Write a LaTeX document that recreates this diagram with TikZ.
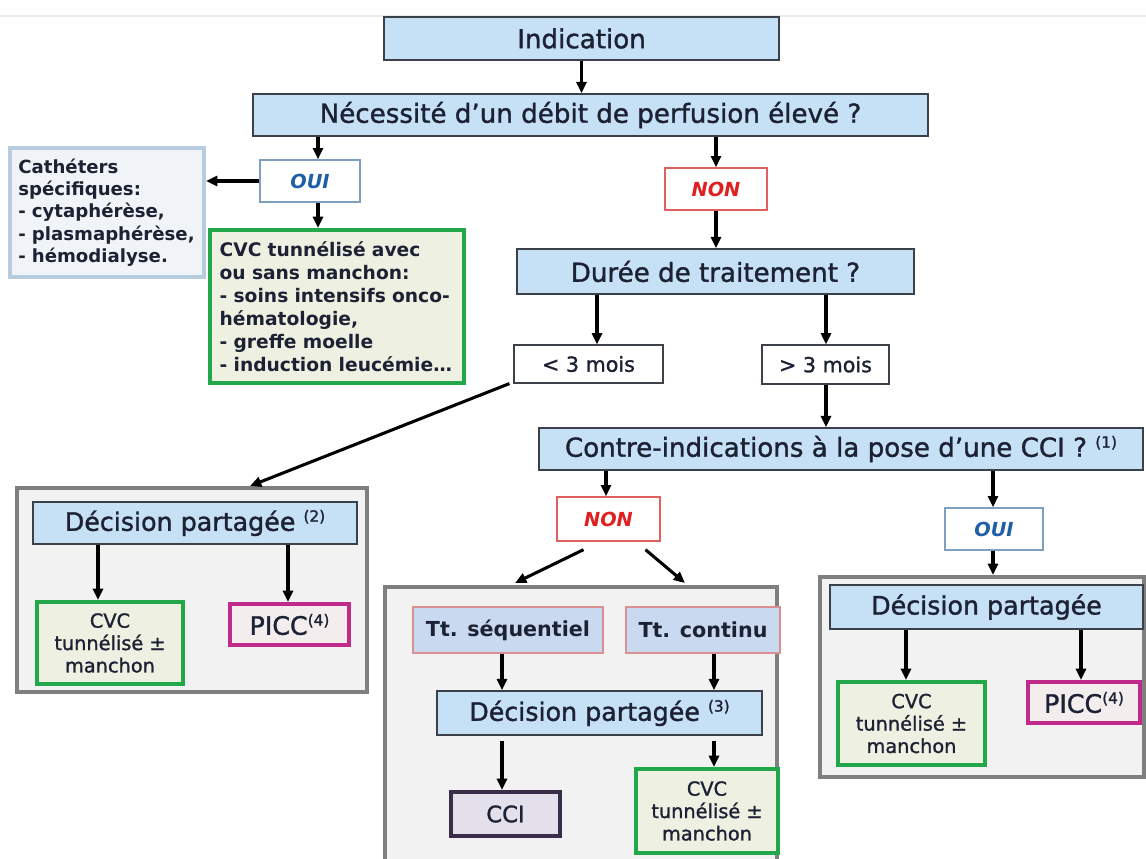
\documentclass[tikz,border=0pt]{standalone}
\usepackage{fontspec}
\setmainfont{DejaVu Sans}
\newfontfamily\medfont[FakeBold=1.3]{DejaVu Sans}
\usetikzlibrary{arrows.meta,calc}
\definecolor{txt}{HTML}{1C2233}
\definecolor{hdrfill}{HTML}{C6E0F6}
\definecolor{hdrdraw}{HTML}{3C4048}
\definecolor{contfill}{HTML}{F2F2F2}
\definecolor{contdraw}{HTML}{7F7F7F}
\definecolor{grn}{HTML}{22A84A}
\definecolor{grnfill}{HTML}{EEF0E2}
\definecolor{mag}{HTML}{C02A8A}
\definecolor{magfill}{HTML}{F3EDED}
\definecolor{ccidraw}{HTML}{3A2D4A}
\definecolor{ccifill}{HTML}{E3DFEB}
\definecolor{ttfill}{HTML}{C9D9EF}
\definecolor{ttdraw}{HTML}{D99090}
\definecolor{ouiblue}{HTML}{1F5FA8}
\definecolor{ouidraw}{HTML}{7F9FBF}
\definecolor{nonred}{HTML}{E02020}
\definecolor{nondraw}{HTML}{E06060}
\definecolor{cathdraw}{HTML}{B8CCE0}
\definecolor{cathfill}{HTML}{F0F4F8}
\newcommand\bx[7]{%
  \node[#2, minimum width={(#5-(#3))*0.75pt}, minimum height={(#6-(#4))*0.75pt}]
    (#1) at ({(#3+#5)/2},{(#4+#6)/2}) {#7};}
\newcommand\supx[1]{{\fontsize{11.5pt}{12pt}\selectfont\raisebox{0.6em}{#1}}}
\begin{document}
\begin{tikzpicture}[x=0.75pt,y=-0.75pt,
  every node/.style={inner sep=0pt, text=txt},
  hdr/.style={draw=hdrdraw, fill=hdrfill, line width=1.1pt, font=\medfont\fontsize{19.6pt}{22pt}\selectfont},
  dphdr/.style={draw=hdrdraw, fill=hdrfill, line width=1.1pt, font=\medfont\fontsize{19pt}{22pt}\selectfont},
  ouibox/.style={draw=ouidraw, fill=white, line width=1pt, text=ouiblue, font=\fontsize{14.5pt}{17pt}\selectfont\bfseries\itshape},
  nonbox/.style={draw=nondraw, fill=white, line width=1pt, text=nonred, font=\fontsize{14.5pt}{17pt}\selectfont\bfseries\itshape},
  moisbox/.style={draw=hdrdraw, fill=white, line width=0.9pt, font=\medfont\fontsize{15.5pt}{18pt}\selectfont},
  cathbox/.style={draw=cathdraw, fill=cathfill, line width=3pt, align=left, inner xsep=6pt, font=\fontsize{13.6pt}{16.8pt}\selectfont\bfseries},
  cvcbig/.style={draw=grn, fill=grnfill, line width=3pt, align=left, inner xsep=7pt, font=\fontsize{14pt}{17.3pt}\selectfont\bfseries},
  cvcsm/.style={draw=grn, fill=grnfill, line width=3pt, align=center, font=\medfont\fontsize{14.5pt}{16.8pt}\selectfont},
  piccbox/.style={draw=mag, fill=magfill, line width=3pt, font=\medfont\fontsize{19pt}{20pt}\selectfont},
  ccibox/.style={draw=ccidraw, fill=ccifill, line width=3pt, font=\medfont\fontsize{17pt}{20pt}\selectfont},
  ttbox/.style={draw=ttdraw, fill=ttfill, line width=0.9pt, font=\fontsize{15.5pt}{18pt}\selectfont\bfseries},
  cont/.style={draw=contdraw, fill=contfill, line width=3pt},
  arr/.style={line width=2.3pt, -{Triangle[length=8.5pt,width=7.5pt]}}
]
\useasboundingbox (0,0) rectangle (1146,858);
\clip (0,0) rectangle (1146,858);
\fill[white] (0,0) rectangle (1146,858);
\draw[line width=0.8pt, color=black!8] (0,16) -- (1146,16);

% containers
\bx{lcont}{cont}{17}{488}{367}{692}{}
\bx{mcont}{cont}{385}{587}{777}{880}{}
\bx{rcont}{cont}{820}{577}{1144}{777}{}

% top
\bx{ind}{hdr}{384}{17}{779}{60}{Indication}
\bx{nec}{hdr}{253}{94}{928}{136}{Nécessité d’un débit de perfusion élevé ?}
\bx{oui1}{ouibox}{260}{160}{360}{202}{OUI}
\bx{cath}{cathbox,text width=133pt}{10}{148}{204}{277}{Cathéters\\spécifiques:\\- cytaphérèse,\\- plasmaphérèse,\\- hémodialyse.}
\bx{cvc1}{cvcbig,text width=176pt}{210}{230}{464}{383}{CVC tunnélisé avec\\ou sans manchon:\\- soins intensifs onco-\\hématologie,\\- greffe moelle\\- induction leucémie…}
\bx{non1}{nonbox}{665}{168}{767}{210}{NON}
\bx{dur}{hdr}{517}{249}{914}{294}{Durée de traitement ?}
\bx{lt3}{moisbox}{514}{345}{663}{383}{< 3 mois}
\bx{gt3}{moisbox}{762}{345}{889}{384}{> 3 mois}
\bx{con}{hdr}{539}{428}{1143}{470}{Contre-indications à la pose d’une CCI ? \supx{(1)}}
\bx{non2}{nonbox}{557}{497}{660}{541}{NON}
\bx{oui2}{ouibox}{945}{508}{1043}{550}{OUI}

% left container
\bx{dp2}{dphdr}{33}{502}{357}{544}{Décision partagée \supx{(2)}}
\bx{cvc2}{cvcsm}{37}{602}{183}{684}{CVC\\tunnélisé ±\\manchon}
\bx{picc2}{piccbox}{230}{604}{349}{645}{PICC\supx{(4)}}

% middle container
\bx{tts}{ttbox}{413}{607}{603}{653}{Tt. séquentiel}
\bx{ttc}{ttbox}{626}{607}{780}{653}{Tt. continu}
\bx{dp3}{dphdr}{437}{691}{762}{735}{Décision partagée \supx{(3)}}
\bx{cci}{ccibox}{451}{792}{560}{836}{CCI}
\bx{cvc3}{cvcsm}{636}{769}{778}{853}{CVC\\tunnélisé ±\\manchon}

% right container
\bx{dpr}{dphdr}{830}{585}{1143}{629}{Décision partagée}
\bx{cvcr}{cvcsm}{838}{682}{985}{765}{CVC\\tunnélisé ±\\manchon}
\bx{piccr}{piccbox}{1028}{682}{1140}{723}{PICC\supx{(4)}}

% connectors
\draw[arr] (ind.south) -- (ind.south |- nec.north);
\coordinate (x318) at (318,0);
\draw[arr] (x318 |- nec.south) -- (x318 |- oui1.north);
\draw[arr] (oui1.west) -- (oui1.west -| cath.east);
\draw[arr] (x318 |- oui1.south) -- (x318 |- cvc1.north);
\draw[arr] (non1.north |- nec.south) -- (non1.north);
\draw[arr] (non1.south) -- (non1.south |- dur.north);
\coordinate (x597) at (597,0);
\coordinate (x826) at (826,0);
\draw[arr] (x597 |- dur.south) -- (x597 |- lt3.north);
\draw[arr] (x826 |- dur.south) -- (x826 |- gt3.north);
\draw[arr] ($(lt3.south west)+(-4,0)$) -- ($(lcont.north)+(58,0)$);
\draw[arr] (x826 |- gt3.south) -- (x826 |- con.north);
\coordinate (x606) at (606,0);
\coordinate (x993) at (993,0);
\draw[arr] (x606 |- con.south) -- (x606 |- non2.north);
\draw[arr] (x993 |- con.south) -- (x993 |- oui2.north);
\draw[arr] (x993 |- oui2.south) -- (x993 |- rcont.north);
\draw[arr] ($(non2.south)+(-25,8)$) -- ($(mcont.north)+(-66,-2)$);
\draw[arr] ($(non2.south)+(37,8)$) -- ($(mcont.north)+(104,-2)$);
\coordinate (x502) at (502,0);
\coordinate (x714) at (714,0);
\draw[arr] (x502 |- tts.south) -- (x502 |- dp3.north);
\draw[arr] (x714 |- ttc.south) -- (x714 |- dp3.north);
\draw[arr] ($(x502 |- dp3.south)+(0,5)$) -- (x502 |- cci.north);
\draw[arr] ($(x714 |- dp3.south)+(0,5)$) -- (x714 |- cvc3.north);
\coordinate (x98) at (98,0);
\coordinate (x288) at (288,0);
\draw[arr] (x98 |- dp2.south) -- (x98 |- cvc2.north);
\draw[arr] (x288 |- dp2.south) -- (x288 |- picc2.north);
\coordinate (x906) at (906,0);
\coordinate (x1081) at (1081,0);
\draw[arr] (x906 |- dpr.south) -- (x906 |- cvcr.north);
\draw[arr] (x1081 |- dpr.south) -- (x1081 |- piccr.north);
\end{tikzpicture}
\end{document}
